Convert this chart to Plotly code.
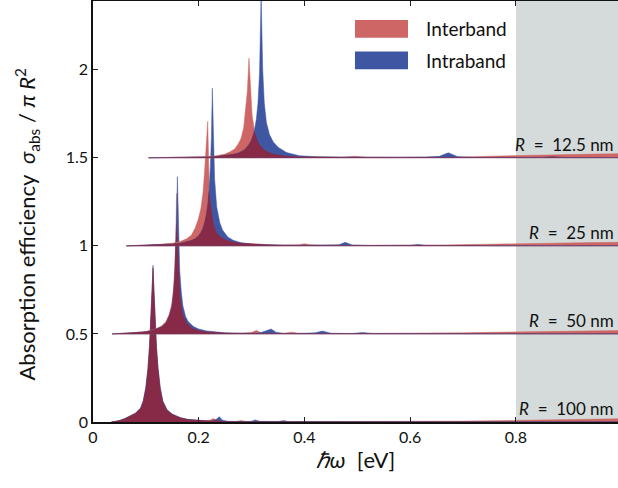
import numpy as np
import plotly.graph_objects as go

# Photon energy grids (eV) and absorption efficiency above each curve's offset
radius_labels = ["100", "50", "25", "12.5"]
offsets = [0.0, 0.5, 1.0, 1.5]

x_r100 = [0.035, 0.05, 0.06, 0.07, 0.08, 0.09, 0.095, 0.10, 0.104, 0.107, 0.110, 0.112,
          0.1135, 0.115, 0.117, 0.120, 0.123, 0.127, 0.132, 0.14, 0.15, 0.165, 0.18, 0.20,
          0.215, 0.222, 0.228, 0.233, 0.239, 0.245, 0.255, 0.27, 0.28, 0.29, 0.30, 0.307,
          0.315, 0.33, 0.35, 0.361, 0.37, 0.40, 0.45, 0.5, 0.6, 0.7, 0.75, 0.8, 0.85, 0.9,
          0.95, 0.993]
inter_r100 = [0.0, 0.008, 0.018, 0.032, 0.048, 0.076, 0.115, 0.19, 0.30, 0.43, 0.60, 0.745,
              0.875, 0.745, 0.59, 0.42, 0.30, 0.19, 0.115, 0.067, 0.043, 0.024, 0.014, 0.008,
              0.007, 0.012, 0.02, 0.01, 0.006, 0.004, 0.003, 0.003, 0.008, 0.003, 0.003, 0.006,
              0.003, 0.002, 0.002, 0.002, 0.002, 0.002, 0.002, 0.002, 0.003, 0.005, 0.007, 0.01,
              0.012, 0.014, 0.016, 0.018]
intra_r100 = [0.0, 0.008, 0.02, 0.035, 0.05, 0.08, 0.12, 0.20, 0.31, 0.44, 0.61, 0.755,
              0.89, 0.755, 0.60, 0.43, 0.31, 0.20, 0.12, 0.07, 0.045, 0.025, 0.014, 0.008,
              0.005, 0.005, 0.008, 0.015, 0.03, 0.01, 0.004, 0.002, 0.002, 0.002, 0.004, 0.012,
              0.004, 0.002, 0.003, 0.008, 0.002, 0.003, 0.001, 0.001, 0.001, 0.001, 0.001, 0.001,
              0.001, 0.001, 0.001, 0.001]

x_r50 = [0.036, 0.06, 0.08, 0.10, 0.11, 0.12, 0.13, 0.138, 0.144, 0.149, 0.152, 0.1545,
         0.1565, 0.158, 0.1596, 0.1615, 0.164, 0.167, 0.17, 0.175, 0.18, 0.19, 0.20, 0.215,
         0.23, 0.25, 0.28, 0.30, 0.309, 0.318, 0.328, 0.337, 0.346, 0.36, 0.376, 0.39, 0.42,
         0.434, 0.45, 0.49, 0.51, 0.53, 0.6, 0.7, 0.75, 0.8, 0.85, 0.9, 0.95, 0.993]
inter_r50 = [0.0, 0.003, 0.007, 0.014, 0.02, 0.03, 0.046, 0.07, 0.11, 0.17, 0.25, 0.36,
             0.52, 0.797, 0.55, 0.36, 0.24, 0.16, 0.11, 0.075, 0.05, 0.03, 0.02, 0.012,
             0.008, 0.005, 0.004, 0.008, 0.02, 0.006, 0.004, 0.004, 0.004, 0.004, 0.01, 0.003,
             0.002, 0.002, 0.002, 0.002, 0.002, 0.002, 0.003, 0.006, 0.009, 0.011, 0.013, 0.015,
             0.017, 0.019]
intra_r50 = [0.0, 0.003, 0.006, 0.012, 0.018, 0.027, 0.04, 0.062, 0.10, 0.15, 0.22, 0.32,
             0.46, 0.63, 0.893, 0.58, 0.36, 0.24, 0.16, 0.10, 0.07, 0.042, 0.028, 0.017,
             0.011, 0.006, 0.004, 0.003, 0.004, 0.008, 0.018, 0.028, 0.01, 0.003, 0.002, 0.002,
             0.006, 0.016, 0.004, 0.002, 0.008, 0.002, 0.001, 0.001, 0.001, 0.001, 0.001, 0.001,
             0.001, 0.001]

x_r25 = [0.063, 0.09, 0.12, 0.15, 0.165, 0.177, 0.186, 0.193, 0.199, 0.204, 0.208, 0.211,
         0.214, 0.217, 0.2195, 0.222, 0.224, 0.2257, 0.2275, 0.230, 0.234, 0.24, 0.245, 0.255,
         0.265, 0.28, 0.30, 0.33, 0.36, 0.39, 0.40, 0.41, 0.44, 0.465, 0.477, 0.49, 0.52, 0.55,
         0.6, 0.615, 0.63, 0.67, 0.72, 0.75, 0.8, 0.85, 0.9, 0.95, 0.993]
inter_r25 = [0.0, 0.003, 0.007, 0.015, 0.025, 0.04, 0.06, 0.10, 0.15, 0.21, 0.30, 0.42,
             0.58, 0.706, 0.38, 0.24, 0.19, 0.16, 0.13, 0.10, 0.075, 0.055, 0.043, 0.03,
             0.022, 0.015, 0.01, 0.006, 0.005, 0.006, 0.012, 0.006, 0.003, 0.003, 0.003, 0.003,
             0.003, 0.003, 0.004, 0.004, 0.004, 0.005, 0.008, 0.01, 0.013, 0.015, 0.017, 0.019,
             0.02]
intra_r25 = [0.0, 0.002, 0.005, 0.01, 0.015, 0.022, 0.03, 0.04, 0.055, 0.075, 0.10, 0.13,
             0.17, 0.23, 0.31, 0.45, 0.62, 0.895, 0.6, 0.38, 0.22, 0.13, 0.09, 0.05,
             0.032, 0.018, 0.01, 0.006, 0.004, 0.003, 0.003, 0.003, 0.003, 0.006, 0.02, 0.005,
             0.002, 0.002, 0.003, 0.008, 0.002, 0.002, 0.004, 0.001, 0.001, 0.001, 0.001, 0.001,
             0.001]

x_r12 = [0.105, 0.15, 0.19, 0.22, 0.235, 0.25, 0.26, 0.268, 0.275, 0.28, 0.285, 0.289,
         0.292, 0.295, 0.298, 0.301, 0.305, 0.309, 0.312, 0.315, 0.318, 0.321, 0.324, 0.328,
         0.334, 0.341, 0.35, 0.366, 0.39, 0.42, 0.47, 0.495, 0.52, 0.58, 0.63, 0.655, 0.672,
         0.69, 0.72, 0.75, 0.8, 0.85, 0.868, 0.89, 0.95, 0.993]
inter_r12 = [0.0, 0.002, 0.004, 0.007, 0.012, 0.022, 0.035, 0.05, 0.08, 0.11, 0.17, 0.27,
             0.38, 0.565, 0.36, 0.24, 0.16, 0.11, 0.09, 0.075, 0.062, 0.052, 0.045, 0.037,
             0.028, 0.021, 0.016, 0.01, 0.006, 0.004, 0.003, 0.008, 0.003, 0.003, 0.003, 0.004,
             0.004, 0.004, 0.006, 0.009, 0.013, 0.016, 0.017, 0.018, 0.021, 0.023]
intra_r12 = [0.0, 0.001, 0.003, 0.005, 0.008, 0.012, 0.016, 0.021, 0.027, 0.033, 0.042, 0.052,
             0.062, 0.075, 0.09, 0.11, 0.15, 0.22, 0.31, 0.48, 0.93, 0.50, 0.31, 0.20,
             0.13, 0.09, 0.06, 0.03, 0.012, 0.006, 0.004, 0.003, 0.003, 0.003, 0.004, 0.008,
             0.028, 0.006, 0.002, 0.001, 0.001, 0.002, 0.006, 0.001, 0.001, 0.001]

energies = [x_r100, x_r50, x_r25, x_r12]
interband = [inter_r100, inter_r50, inter_r25, inter_r12]
intraband = [intra_r100, intra_r50, intra_r25, intra_r12]

x_ticks = [0, 0.2, 0.4, 0.6, 0.8]
x_tick_text = ["0", "0.2", "0.4", "0.6", "0.8"]
y_ticks = [0, 0.5, 1, 1.5, 2]
y_tick_text = ["0", "0.5", "1", "1.5", "2"]

RED = "#CD6664"
BLUE = "#3F56A3"
MAROON = "#862A47"
GREY = "#D5DADA"
FONT = "Lato"
INK = "#111111"


def band(xs, vals, off):
    """Closed polygon between the offset baseline and the curve."""
    xs = list(xs)
    ys = [off + v for v in vals]
    return xs + xs[::-1], ys + [off] * len(xs)


fig = go.Figure()

for xs, inter, intra, off in zip(energies, interband, intraband, offsets):
    overlap = np.minimum(np.array(inter), np.array(intra)).tolist()
    styles = ((inter, RED, RED, 0.5),
              (intra, BLUE, BLUE, 0.5),
              (overlap, MAROON, "rgba(134,42,71,0.55)", 0.5))
    for vals, fillcol, linecol, w in styles:
        px, py = band(xs, vals, off)
        fig.add_trace(go.Scatter(
            x=px, y=py, mode="lines", fill="toself", fillcolor=fillcol,
            line=dict(color=linecol, width=w), hoverinfo="skip", showlegend=False,
        ))

x_max = 0.993
y_max = 2.39

shapes = [
    # region beyond 0.8 eV
    dict(type="rect", xref="x", yref="paper", x0=0.8, x1=x_max, y0=0, y1=1,
         fillcolor=GREY, line=dict(width=0), layer="below"),
    # legend swatches
    dict(type="rect", xref="paper", yref="paper", x0=0.499, x1=0.600, y0=0.913, y1=0.955,
         fillcolor=RED, line=dict(width=0)),
    dict(type="rect", xref="paper", yref="paper", x0=0.499, x1=0.600, y0=0.838, y1=0.880,
         fillcolor=BLUE, line=dict(width=0)),
]

annotations = [
    dict(xref="paper", yref="paper", x=0.631, y=0.934, text="Interband", showarrow=False,
         xanchor="left", yanchor="middle", font=dict(family=FONT, size=19, color=INK)),
    dict(xref="paper", yref="paper", x=0.631, y=0.859, text="Intraband", showarrow=False,
         xanchor="left", yanchor="middle", font=dict(family=FONT, size=19, color=INK)),
    # vertical axis title
    dict(xref="paper", yref="paper", x=-0.125, y=0.47, textangle=-90,
         text="Absorption efficiency  <i>σ</i><sub>abs</sub> / <i>π R</i><sup>2</sup>",
         showarrow=False, xanchor="center", yanchor="middle",
         font=dict(family=FONT, size=22, color=INK)),
]
for lab, off in zip(radius_labels, offsets):
    annotations.append(dict(
        xref="paper", yref="y", x=0.996, y=off, yshift=1,
        text=f"<i>R</i>  =  {lab} nm", showarrow=False, xanchor="right", yanchor="bottom",
        font=dict(family=FONT, size=17, color=INK),
    ))

fig.update_layout(
    width=618, height=488,
    margin=dict(l=93, r=0, t=1, b=66),
    paper_bgcolor="white", plot_bgcolor="white",
    shapes=shapes, annotations=annotations,
    showlegend=False,
    font=dict(family=FONT, color=INK),
)
fig.update_xaxes(
    range=[0, x_max], tickvals=x_ticks, ticktext=x_tick_text,
    ticks="inside", ticklen=5, tickwidth=1, tickcolor="#222",
    showline=True, linewidth=1.6, linecolor=INK, mirror="ticks",
    showgrid=False, zeroline=False, tickfont=dict(size=16),
    title=dict(text="<i>ℏω</i>  [eV]", font=dict(size=22), standoff=8),
)
fig.update_yaxes(
    range=[0, y_max], tickvals=y_ticks, ticktext=y_tick_text,
    ticks="inside", ticklen=5, tickwidth=1, tickcolor="#222",
    showline=True, linewidth=1.6, linecolor=INK,
    showgrid=False, zeroline=False, tickfont=dict(size=16),
)

fig.write_html("out.html")
